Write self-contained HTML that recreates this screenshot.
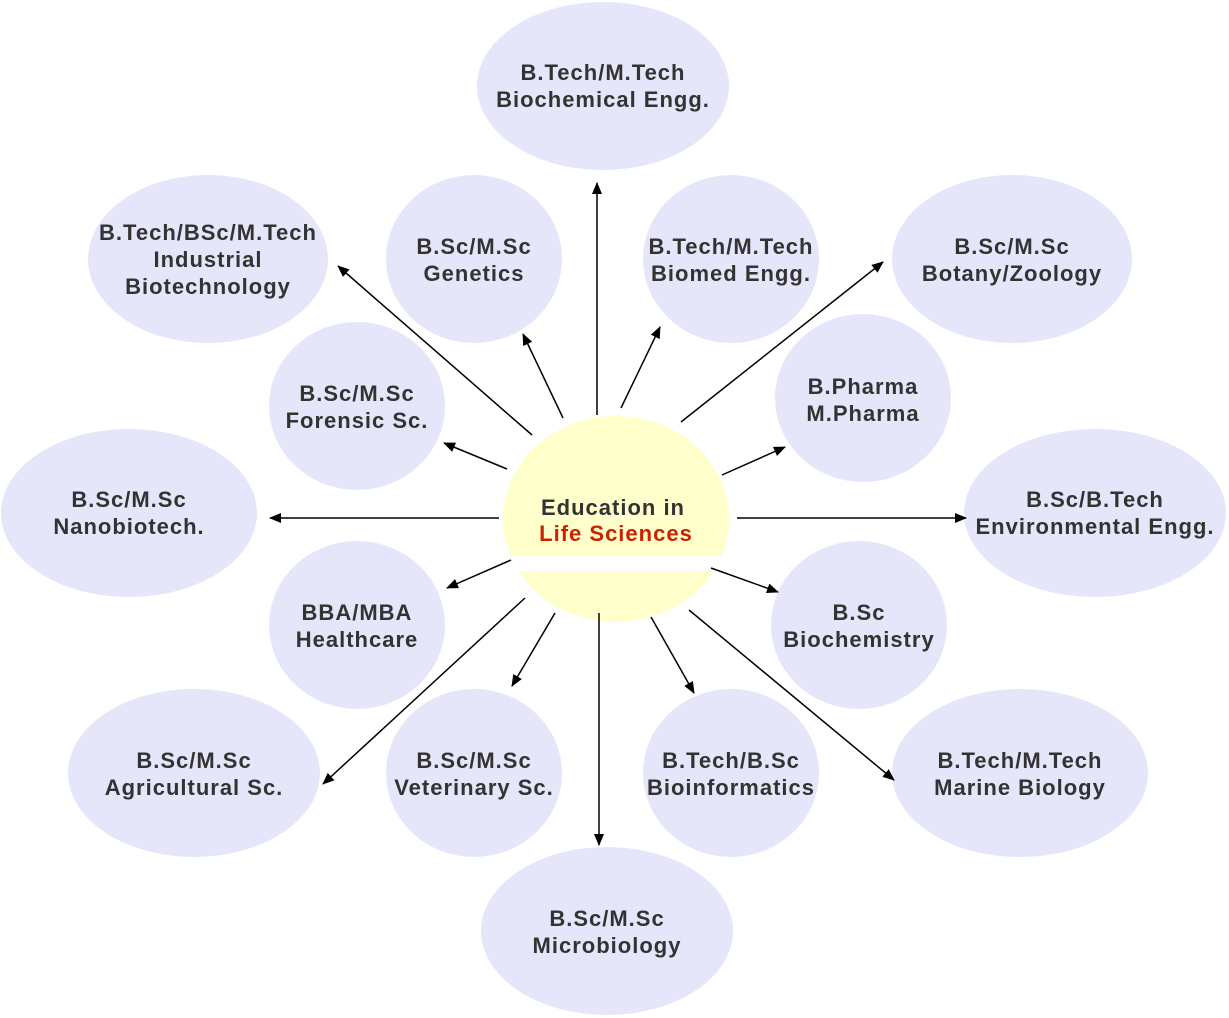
<!DOCTYPE html>
<html><head><meta charset="utf-8"><style>html,body{margin:0;padding:0;background:#fff}svg{display:block}</style></head>
<body>
<svg width="1229" height="1018" viewBox="0 0 1229 1018" xmlns="http://www.w3.org/2000/svg">
<defs><marker id="a" markerWidth="12" markerHeight="10" refX="11" refY="5" orient="auto" markerUnits="userSpaceOnUse"><path d="M0,0 L12,5 L0,10 z" fill="#000"/></marker></defs>
<g fill="#e6e6fa">
<ellipse cx="603" cy="86" rx="126" ry="84"/>
<ellipse cx="208" cy="259" rx="120" ry="84"/>
<ellipse cx="474" cy="259" rx="88" ry="84"/>
<ellipse cx="731" cy="259" rx="88" ry="84"/>
<ellipse cx="1012" cy="259" rx="120" ry="84"/>
<ellipse cx="357" cy="406" rx="88" ry="84"/>
<ellipse cx="863" cy="398" rx="88" ry="84"/>
<ellipse cx="129" cy="513" rx="128" ry="84"/>
<ellipse cx="1095" cy="513" rx="131" ry="84"/>
<ellipse cx="357" cy="625" rx="88" ry="84"/>
<ellipse cx="859" cy="625" rx="88" ry="84"/>
<ellipse cx="194" cy="773" rx="126" ry="84"/>
<ellipse cx="474" cy="773" rx="88" ry="84"/>
<ellipse cx="731" cy="773" rx="88" ry="84"/>
<ellipse cx="1020" cy="773" rx="128" ry="84"/>
<ellipse cx="607" cy="931" rx="126" ry="84"/>
</g>
<ellipse cx="616" cy="519" rx="113" ry="103" fill="#ffffcc"/>
<rect x="500" y="556" width="240" height="15" fill="#fff"/>
<g stroke="#000" stroke-width="1.5" marker-end="url(#a)">
<line x1="597" y1="415" x2="597" y2="183"/>
<line x1="532" y1="435" x2="338" y2="266"/>
<line x1="563" y1="418" x2="523" y2="334"/>
<line x1="621" y1="408" x2="660" y2="327"/>
<line x1="681" y1="422" x2="883" y2="262"/>
<line x1="507" y1="469" x2="444" y2="443"/>
<line x1="722" y1="475" x2="785" y2="447"/>
<line x1="499" y1="518" x2="270" y2="518"/>
<line x1="737" y1="518" x2="966" y2="518"/>
<line x1="511" y1="560" x2="447" y2="588"/>
<line x1="711" y1="568" x2="778" y2="592"/>
<line x1="525" y1="598" x2="323" y2="784"/>
<line x1="555" y1="613" x2="512" y2="686"/>
<line x1="651" y1="617" x2="694" y2="693"/>
<line x1="689" y1="610" x2="894" y2="780"/>
<line x1="599" y1="613" x2="599" y2="845"/>
</g>
<g font-family="Liberation Sans, sans-serif" font-weight="bold" font-size="22" letter-spacing="1" fill="#333" text-anchor="middle">
<text x="603" y="80">B.Tech/M.Tech</text><text x="603" y="107">Biochemical Engg.</text>
<text x="208" y="240">B.Tech/BSc/M.Tech</text><text x="208" y="267">Industrial</text><text x="208" y="294">Biotechnology</text>
<text x="474" y="254">B.Sc/M.Sc</text><text x="474" y="281">Genetics</text>
<text x="731" y="254">B.Tech/M.Tech</text><text x="731" y="281">Biomed Engg.</text>
<text x="1012" y="254">B.Sc/M.Sc</text><text x="1012" y="281">Botany/Zoology</text>
<text x="357" y="401">B.Sc/M.Sc</text><text x="357" y="428">Forensic Sc.</text>
<text x="863" y="394">B.Pharma</text><text x="863" y="421">M.Pharma</text>
<text x="129" y="507">B.Sc/M.Sc</text><text x="129" y="534">Nanobiotech.</text>
<text x="1095" y="507">B.Sc/B.Tech</text><text x="1095" y="534">Environmental Engg.</text>
<text x="357" y="620">BBA/MBA</text><text x="357" y="647">Healthcare</text>
<text x="859" y="620">B.Sc</text><text x="859" y="647">Biochemistry</text>
<text x="194" y="768">B.Sc/M.Sc</text><text x="194" y="795">Agricultural Sc.</text>
<text x="474" y="768">B.Sc/M.Sc</text><text x="474" y="795">Veterinary Sc.</text>
<text x="731" y="768">B.Tech/B.Sc</text><text x="731" y="795">Bioinformatics</text>
<text x="1020" y="768">B.Tech/M.Tech</text><text x="1020" y="795">Marine Biology</text>
<text x="607" y="926">B.Sc/M.Sc</text><text x="607" y="953">Microbiology</text>
<text x="613" y="515">Education in</text>
<text x="616" y="541" fill="#cc2200">Life Sciences</text>
</g>
</svg>
</body></html>
